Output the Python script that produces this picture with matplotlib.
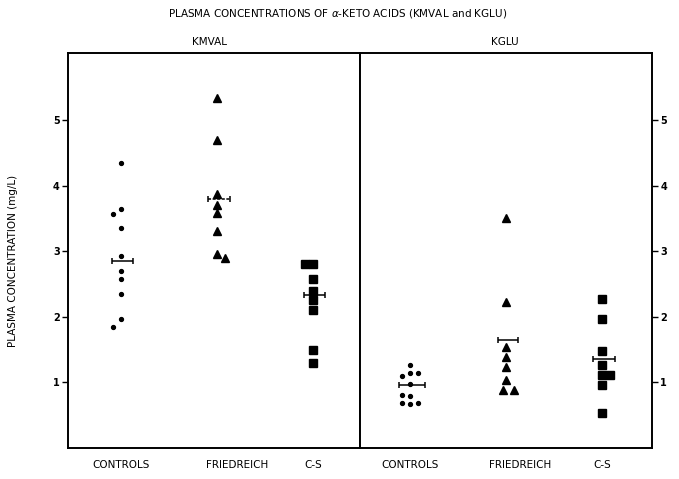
import matplotlib
matplotlib.use("Agg")
import matplotlib.pyplot as plt

# ---------------- data ----------------
categories = ["CONTROLS", "FRIEDREICH", "C-S"]
yticks = [1, 2, 3, 4, 5]

kmval_controls = [4.34, 3.65, 3.56, 3.36, 2.92, 2.70, 2.58, 2.35, 1.96, 1.84]
kmval_friedreich = [5.33, 4.69, 3.87, 3.70, 3.58, 3.30, 2.95, 2.89]
kmval_cs = [2.80, 2.80, 2.57, 2.40, 2.25, 2.10, 1.49, 1.29]
kmval_means = [2.85, 3.79, 2.33]

kglu_controls = [1.26, 1.14, 1.14, 1.09, 0.97, 0.81, 0.80, 0.68, 0.67, 0.68]
kglu_friedreich = [3.50, 2.23, 1.54, 1.39, 1.23, 1.03, 0.88, 0.89]
kglu_cs = [2.27, 1.96, 1.48, 1.26, 1.12, 1.12, 0.96, 0.54]
kglu_means = [0.96, 1.65, 1.35]

# ---------------- layout (horizontal dodge slots, label positions) ----------------
kmval_slots = [[0, 0, -1, 0, 0, 0, 0, 0, 0, -1],
               [0, 0, 0, 0, 0, 0, 0, 1],
               [-1, 0, 0, 0, 0, 0, 0, 0]]
kglu_slots = [[0, 0, 1, -1, 0, -1, 0, -1, 0, 1],
              [0, 0, 0, 0, 0, 0, -0.4, 1],
              [0, 0, 0, 0, 0, 1, 0, 0]]
slot_step = 0.085
mean_halfwidth_left = [0.11, 0.115, 0.11]
mean_halfwidth_right = [0.135, 0.10, 0.115]
label_pos_left = [1, 2.21, 3]
label_pos_right = [1, 2.15, 3]

FONT = ['Liberation Sans Narrow', 'DejaVu Sans']
plt.rcParams['font.family'] = FONT

fig = plt.figure(figsize=(6.79, 4.79), dpi=100)
L, R, B, T = 68 / 679, 652 / 679, 1 - 448 / 479, 1 - 53 / 479
mid = 360 / 679
axl = fig.add_axes([L, B, mid - L, T - B])
axr = fig.add_axes([mid, B, R - mid, T - B])

markers = ['o', '^', 's']
msizes = [2.8, 6.2, 5.4]


def draw(ax, groups, slots, means, halfw, xlim):
    for i, (vals, sl) in enumerate(zip(groups, slots)):
        xs = [i + 1 + s * slot_step for s in sl]
        ax.plot(xs, vals, linestyle='none', marker=markers[i], ms=msizes[i],
                color='black', mec='black')
    for i, m in enumerate(means):
        ls = (0, (2.0, 1.0)) if (ax is axl and i == 1) else '-'
        eb = ax.errorbar([i + 1 + 0.02], [m], xerr=[halfw[i]], fmt='none',
                         ecolor='black', elinewidth=1.1, capsize=2, capthick=1.1)
        eb[2][0].set_linestyle(ls)
    ax.set_xlim(*xlim)
    ax.set_ylim(0, 6.02)
    for s in ax.spines.values():
        s.set_linewidth(1.4)


draw(axl, [kmval_controls, kmval_friedreich, kmval_cs], kmval_slots,
     kmval_means, mean_halfwidth_left, (0.45, 3.49))
draw(axr, [kglu_controls, kglu_friedreich, kglu_cs], kglu_slots,
     kglu_means, mean_halfwidth_right, (0.48, 3.52))

axl.set_yticks(yticks)
axl.set_yticklabels([str(t) for t in yticks], fontsize=7, fontweight='bold')
axl.tick_params(axis='y', direction='out', length=4, width=1, pad=2)
axr.yaxis.tick_right()
axr.set_yticks(yticks)
axr.set_yticklabels([str(t) for t in yticks], fontsize=7, fontweight='bold')
axr.tick_params(axis='y', direction='out', length=4, width=1, pad=2)

axl.set_xticks(label_pos_left)
axl.set_xticklabels(categories, fontsize=7.5)
axr.set_xticks(label_pos_right)
axr.set_xticklabels(categories, fontsize=7.5)
for ax in (axl, axr):
    ax.tick_params(axis='x', length=0, pad=9)

axl.set_title("KMVAL", fontsize=7.5, pad=6, x=0.486)
axr.set_title("KGLU", fontsize=7.5, pad=6, x=0.497)

axl.set_ylabel("PLASMA CONCENTRATION (mg/L)", fontsize=7.5)
axl.yaxis.set_label_coords(-0.171, 0.473)

fig.text(0.498, 1 - 14 / 479,
         r"PLASMA CONCENTRATIONS OF $\alpha$-KETO ACIDS (KMVAL and KGLU)",
         ha='center', va='center', fontsize=7.5)

fig.savefig("out.png", dpi=100)
